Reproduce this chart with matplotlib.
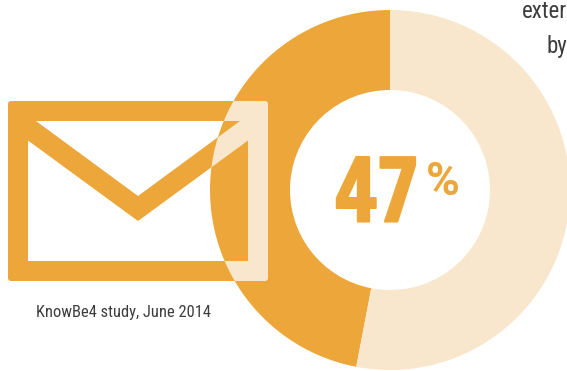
import matplotlib
matplotlib.use("Agg")
import matplotlib.pyplot as plt
import matplotlib.patheffects as pe
from matplotlib.patches import Circle, PathPatch
from matplotlib.path import Path

# share of users, in percent
shares = [47, 53]
share_label = "47"
caption = "KnowBe4 study, June 2014"
cut_lines = ["exter", "by"]

ORANGE = "#EDA63A"
PALE = "#F9E7CD"
INK = "#3D3D3D"
NARROW = "Roboto Condensed"

W, H = 567, 371


def flip(pts):
    # icon outlines are easier to write with y going down
    return [(x, H - y) for x, y in pts]


def rounded_rect(x0, y0, x1, y1, r):
    pts = [(x0 + r, y0), (x1 - r, y0), (x1, y0), (x1, y0 + r), (x1, y1 - r), (x1, y1),
           (x1 - r, y1), (x0 + r, y1), (x0, y1), (x0, y1 - r), (x0, y0 + r), (x0, y0),
           (x0 + r, y0), (x0 + r, y0)]
    codes = [Path.MOVETO, Path.LINETO, Path.CURVE3, Path.CURVE3, Path.LINETO, Path.CURVE3,
             Path.CURVE3, Path.LINETO, Path.CURVE3, Path.CURVE3, Path.LINETO, Path.CURVE3,
             Path.CURVE3, Path.CLOSEPOLY]
    return flip(pts), codes


def polygon(pts):
    pts = list(pts) + [pts[0]]
    return flip(pts), [Path.MOVETO] + [Path.LINETO] * (len(pts) - 2) + [Path.CLOSEPOLY]


def envelope_path():
    # outer frame minus the two white panes either side of the flap,
    # panes wound the other way so they come out as holes
    verts, codes = rounded_rect(8, 101, 268, 281, 3)
    top = polygon([(36, 121), (138, 196), (240, 121)])
    bottom = polygon([(28, 140.5), (28, 261), (248, 261), (248, 140.5), (138, 221)])
    for v, c in (top, bottom):
        verts = verts + v
        codes = codes + c
    return Path(verts, codes)


fig = plt.figure(figsize=(W / 100, H / 100), dpi=100)
ax = fig.add_axes([0, 0, 1, 1])

cx, cy, radius = 390, H - 190, 180
ax.pie(shares, colors=[ORANGE, PALE], startangle=90, counterclock=True,
       center=(cx, cy), radius=radius, wedgeprops={"width": 80, "linewidth": 0})
ax.set_xlim(0, W)
ax.set_ylim(0, H)
ax.set_aspect("auto")
ax.axis("off")

# envelope: orange on the page, pale where it crosses the ring
env = envelope_path()
ax.add_patch(PathPatch(env, facecolor=ORANGE, edgecolor="none", zorder=3))
pale_env = PathPatch(env, facecolor=PALE, edgecolor="none", zorder=4)
ax.add_patch(pale_env)
pale_env.set_clip_path(Circle((cx, cy), radius, transform=ax.transData))

# the condensed face is a bit light at this size, thicken it with a stroke
big = ax.text(377, H - 221.5, share_label, color=ORANGE, fontsize=65, fontweight="bold",
              family="Open Sans Condensed", ha="center", va="baseline", zorder=5)
big.set_path_effects([pe.withStroke(linewidth=1.5, foreground=ORANGE)])
ax.text(443, H - 195, "%", color=ORANGE, fontsize=33, fontweight="bold",
        family="Roboto", ha="center", va="baseline", zorder=5)

ax.text(123.5, H - 313, caption, color=INK, fontsize=11.9, family=NARROW,
        ha="center", va="center")

ax.text(567, H - 17.5, cut_lines[0], color=INK, fontsize=16.5, family=NARROW,
        ha="right", va="baseline")
ax.text(567, H - 53, cut_lines[1], color=INK, fontsize=16.5, family=NARROW,
        ha="right", va="baseline")

fig.savefig("out.png", dpi=100)
